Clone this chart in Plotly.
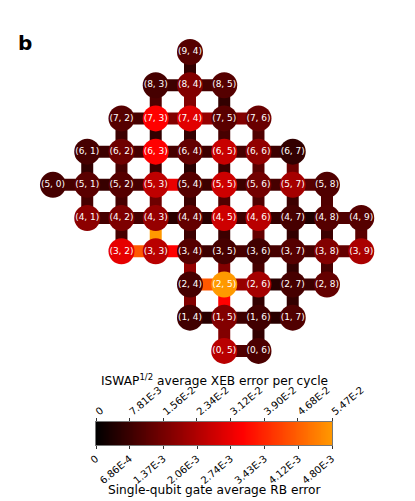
import numpy as np
import plotly.graph_objects as go
from plotly.colors import sample_colorscale

# (row, column) of each qubit with its single-qubit RB error, in units of 1E-3
QUBITS = [
    (9, 4),
    (8, 3), (8, 4), (8, 5),
    (7, 2), (7, 3), (7, 4), (7, 5), (7, 6),
    (6, 1), (6, 2), (6, 3), (6, 4), (6, 5), (6, 6), (6, 7),
    (5, 0), (5, 1), (5, 2), (5, 3), (5, 4), (5, 5), (5, 6), (5, 7), (5, 8),
    (4, 1), (4, 2), (4, 3), (4, 4), (4, 5), (4, 6), (4, 7), (4, 8), (4, 9),
    (3, 2), (3, 3), (3, 4), (3, 5), (3, 6), (3, 7), (3, 8), (3, 9),
    (2, 4), (2, 5), (2, 6), (2, 7), (2, 8),
    (1, 4), (1, 5), (1, 6), (1, 7),
    (0, 5), (0, 6),
]
RB_ERROR = [
    0.99,
    0.82, 1.52, 0.99,
    0.99, 2.98, 2.63, 1.05, 1.23,
    0.82, 1.28, 2.98, 1.17, 2.33, 1.69, 0.58,
    0.82, 1.05, 0.99, 2.22, 0.99, 2.39, 1.34, 1.93, 0.93,
    1.63, 1.46, 1.75, 1.17, 2.39, 2.16, 0.82, 0.99, 0.99,
    2.68, 2.16, 0.99, 0.82, 0.76, 0.99, 1.52, 1.98,
    0.82, 4.80, 1.93, 0.82, 1.17,
    0.76, 1.52, 0.76, 0.93,
    2.16, 0.87,
]

# couplers and their XEB error per cycle, in units of 1E-3
COUPLERS = [
    ((8, 3), (8, 4)), ((8, 4), (8, 5)),
    ((7, 2), (7, 3)), ((7, 3), (7, 4)), ((7, 4), (7, 5)), ((7, 5), (7, 6)),
    ((6, 1), (6, 2)), ((6, 2), (6, 3)), ((6, 3), (6, 4)), ((6, 4), (6, 5)), ((6, 5), (6, 6)), ((6, 6), (6, 7)),
    ((5, 0), (5, 1)), ((5, 1), (5, 2)), ((5, 2), (5, 3)), ((5, 3), (5, 4)), ((5, 4), (5, 5)), ((5, 5), (5, 6)), ((5, 6), (5, 7)), ((5, 7), (5, 8)),
    ((4, 1), (4, 2)), ((4, 2), (4, 3)), ((4, 3), (4, 4)), ((4, 4), (4, 5)), ((4, 5), (4, 6)), ((4, 6), (4, 7)), ((4, 7), (4, 8)), ((4, 8), (4, 9)),
    ((3, 2), (3, 3)), ((3, 3), (3, 4)), ((3, 4), (3, 5)), ((3, 5), (3, 6)), ((3, 6), (3, 7)), ((3, 7), (3, 8)), ((3, 8), (3, 9)),
    ((2, 4), (2, 5)), ((2, 5), (2, 6)), ((2, 6), (2, 7)), ((2, 7), (2, 8)),
    ((1, 4), (1, 5)), ((1, 5), (1, 6)), ((1, 6), (1, 7)),
    ((0, 5), (0, 6)),
    ((8, 4), (9, 4)),
    ((7, 3), (8, 3)), ((7, 4), (8, 4)), ((7, 5), (8, 5)),
    ((6, 2), (7, 2)), ((6, 3), (7, 3)), ((6, 4), (7, 4)), ((6, 5), (7, 5)), ((6, 6), (7, 6)),
    ((5, 1), (6, 1)), ((5, 2), (6, 2)), ((5, 3), (6, 3)), ((5, 4), (6, 4)), ((5, 5), (6, 5)), ((5, 6), (6, 6)), ((5, 7), (6, 7)),
    ((4, 1), (5, 1)), ((4, 2), (5, 2)), ((4, 3), (5, 3)), ((4, 4), (5, 4)), ((4, 5), (5, 5)), ((4, 6), (5, 6)), ((4, 7), (5, 7)), ((4, 8), (5, 8)),
    ((3, 2), (4, 2)), ((3, 3), (4, 3)), ((3, 4), (4, 4)), ((3, 5), (4, 5)), ((3, 6), (4, 6)), ((3, 7), (4, 7)), ((3, 8), (4, 8)), ((3, 9), (4, 9)),
    ((2, 4), (3, 4)), ((2, 5), (3, 5)), ((2, 6), (3, 6)), ((2, 7), (3, 7)), ((2, 8), (3, 8)),
    ((1, 4), (2, 4)), ((1, 5), (2, 5)), ((1, 6), (2, 6)), ((1, 7), (2, 7)),
    ((0, 5), (1, 5)), ((0, 6), (1, 6)),
]
XEB_ERROR = [
    8.0, 9.3,
    9.3, 17.3, 20.0, 17.3,
    8.0, 9.3, 9.3, 8.0, 9.3, 8.0,
    9.3, 7.3, 9.3, 31.3, 8.0, 8.0, 9.3, 11.3,
    9.3, 9.3, 5.3, 5.3, 8.0, 6.7, 4.0, 10.6,
    45.9, 33.9, 8.0, 9.3, 9.3, 9.3, 13.3,
    45.9, 20.0, 5.3, 8.0,
    5.3, 8.0, 5.3,
    10.6,
    6.7,
    10.6, 17.3, 6.7,
    8.0, 6.7, 6.7, 9.3, 10.6,
    6.7, 9.3, 8.0, 5.3, 8.0, 12.0, 14.6,
    9.3, 9.3, 14.6, 8.0, 10.6, 10.6, 8.0, 10.6,
    9.3, 54.7, 8.0, 8.0, 13.3, 6.7, 8.0, 12.0,
    20.0, 17.3, 9.3, 6.7, 9.3,
    17.3, 33.9, 6.7, 6.7,
    17.3, 6.7,
]

XEB_TICKS = [0, 7.81, 15.6, 23.4, 31.2, 39.0, 46.8, 54.7]
XEB_LABELS = ["0", "7.81E-3", "1.56E-2", "2.34E-2", "3.12E-2", "3.90E-2", "4.68E-2", "5.47E-2"]
RB_TICKS = [0, 0.686, 1.37, 2.06, 2.74, 3.43, 4.12, 4.80]
RB_LABELS = ["0", "6.86E-4", "1.37E-3", "2.06E-3", "2.74E-3", "3.43E-3", "4.12E-3", "4.80E-3"]

COLORSCALE = [[0, "#000000"], [0.62, "#ff0000"], [1, "#ff9900"]]
FONT = "DejaVu Sans"

fig = go.Figure()

for (a, b), err in zip(COUPLERS, XEB_ERROR):
    color = sample_colorscale(COLORSCALE, [err / XEB_TICKS[-1]])[0]
    fig.add_trace(go.Scatter(
        x=[a[1], b[1]],
        y=[a[0], b[0]],
        mode="lines",
        line=dict(width=12, color=color),
        hoverinfo="skip",
    ))

fig.add_trace(go.Scatter(
    x=[q[1] for q in QUBITS],
    y=[q[0] for q in QUBITS],
    mode="markers+text",
    marker=dict(
        size=26,
        color=RB_ERROR,
        colorscale=COLORSCALE,
        cmin=0,
        cmax=RB_TICKS[-1],
        line=dict(width=0),
    ),
    text=[f"({q[0]}, {q[1]})" for q in QUBITS],
    textposition="middle center",
    textfont=dict(family=FONT, size=9, color="white"),
    hovertemplate="%{text}: %{marker.color:.2f}E-3<extra></extra>",
))

# colour bar, single-qubit scale below and XEB scale above
fig.add_trace(go.Heatmap(
    x=np.linspace(0, RB_TICKS[-1], 256),
    y=[0],
    z=[np.linspace(0, 1, 256)],
    zmin=0,
    zmax=1,
    colorscale=COLORSCALE,
    showscale=False,
    hoverinfo="skip",
    xaxis="x2",
    yaxis="y2",
))
fig.add_trace(go.Scatter(
    x=XEB_TICKS,
    y=[0] * len(XEB_TICKS),
    mode="markers",
    marker=dict(opacity=0),
    hoverinfo="skip",
    xaxis="x3",
    yaxis="y2",
))

fig.update_layout(
    width=415,
    height=501,
    autosize=False,
    showlegend=False,
    paper_bgcolor="white",
    plot_bgcolor="white",
    margin=dict(l=0, r=0, t=0, b=0),
    font=dict(family=FONT, color="black"),
    xaxis=dict(range=[-1.547, 10.57], visible=False, domain=[0, 1], automargin=False),
    yaxis=dict(range=[-4.52, 10.566], visible=False, domain=[0, 1], automargin=False),
    xaxis2=dict(
        domain=[96 / 415, 332 / 415],
        range=[0, RB_TICKS[-1]],
        anchor="y2",
        automargin=False,
        tickmode="array",
        tickvals=RB_TICKS,
        ticktext=RB_LABELS,
        tickangle=-40,
        ticks="outside",
        ticklen=3,
        tickwidth=1,
        tickcolor="#333333",
        tickfont=dict(size=10),
        showgrid=False,
        zeroline=False,
        showline=True,
        linecolor="#777777",
        mirror=True,
    ),
    xaxis3=dict(
        overlaying="x2",
        side="top",
        range=[0, XEB_TICKS[-1]],
        anchor="y2",
        automargin=False,
        tickmode="array",
        tickvals=XEB_TICKS,
        ticktext=XEB_LABELS,
        tickangle=-40,
        ticks="outside",
        ticklen=3,
        tickwidth=1,
        tickcolor="#333333",
        tickfont=dict(size=10),
        ticklabelstandoff=-3,
        showgrid=False,
        zeroline=False,
    ),
    yaxis2=dict(
        domain=[56 / 501, 79 / 501],
        range=[-0.5, 0.5],
        anchor="x2",
        automargin=False,
        showticklabels=False,
        ticks="",
        showgrid=False,
        zeroline=False,
        showline=True,
        linecolor="#777777",
        mirror=True,
    ),
    annotations=[
        dict(text="<b>b</b>", x=16 / 415, y=1 - 43 / 501, xref="paper", yref="paper",
             xanchor="left", yanchor="middle", showarrow=False, font=dict(size=20)),
        dict(text="ISWAP<sup>1/2</sup> average XEB error per cycle", x=214 / 415, y=1 - 380 / 501,
             xref="paper", yref="paper", xanchor="center", yanchor="middle", showarrow=False,
             font=dict(size=12.2)),
        dict(text="Single-qubit gate average RB error", x=214 / 415, y=1 - 490 / 501,
             xref="paper", yref="paper", xanchor="center", yanchor="middle", showarrow=False,
             font=dict(size=12.2)),
    ],
)

# page margin would otherwise push the figure 8px down and right
fig.write_html("out.html", config=dict(displayModeBar=False), post_script="document.body.style.margin='0';")
